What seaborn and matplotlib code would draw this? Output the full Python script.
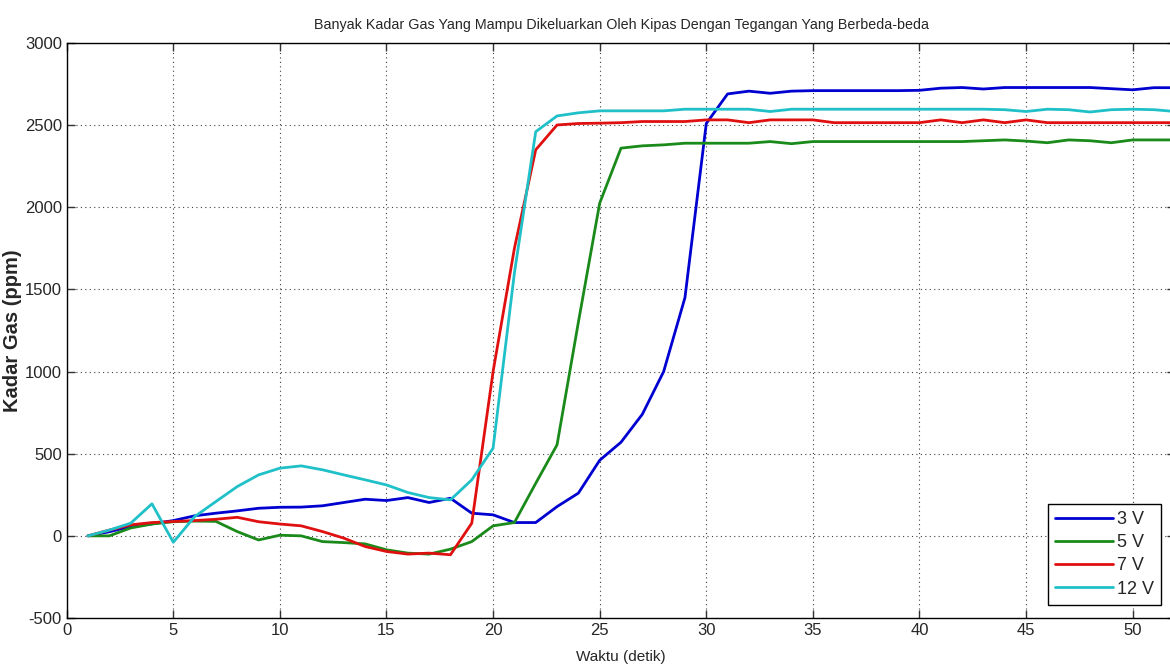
import matplotlib
matplotlib.use("Agg")
import matplotlib.pyplot as plt
import seaborn as sns
import pandas as pd
import numpy as np

# ---- data ----
waktu = list(range(1, 53))

v3 = [0, 25, 57, 73, 93, 122, 138, 152, 168, 174,
      175, 183, 203, 223, 215, 233, 203, 229, 138, 128,
      81, 81, 178, 260, 460, 570, 740, 1000, 1450, 2510,
      2690, 2707, 2694, 2707, 2710, 2710, 2710, 2710, 2710, 2712,
      2725, 2729, 2720, 2729, 2729, 2729, 2729, 2729, 2722, 2715,
      2728, 2728]

v5 = [0, 0, 48, 72, 86, 90, 88, 26, -25, 4,
      0, -35, -41, -49, -85, -105, -111, -81, -35, 61,
      81, 320, 554, 1300, 2025, 2360, 2374, 2380, 2390, 2390,
      2390, 2390, 2400, 2387, 2400, 2400, 2400, 2400, 2400, 2400,
      2400, 2400, 2405, 2410, 2403, 2393, 2410, 2405, 2393, 2410,
      2410, 2410]

v7 = [0, 35, 67, 81, 87, 93, 101, 113, 86, 72,
      61, 26, -14, -65, -95, -111, -105, -115, 77, 1000,
      1750, 2350, 2501, 2510, 2512, 2515, 2522, 2522, 2522, 2532,
      2532, 2515, 2532, 2532, 2532, 2515, 2515, 2515, 2515, 2515,
      2532, 2515, 2532, 2515, 2532, 2515, 2515, 2515, 2515, 2515,
      2515, 2515]

v12 = [0, 35, 77, 195, -39, 117, 209, 300, 371, 412,
       426, 402, 371, 341, 310, 264, 233, 219, 341, 534,
       1600, 2460, 2556, 2575, 2587, 2587, 2587, 2587, 2597, 2597,
       2597, 2597, 2583, 2597, 2597, 2597, 2597, 2597, 2597, 2597,
       2597, 2597, 2597, 2594, 2583, 2597, 2594, 2580, 2594, 2597,
       2594, 2583]

labels = ["3 V", "5 V", "7 V", "12 V"]
colors = ["#0000d0", "#1a8a1a", "#e01010", "#20c0c8"]

df = pd.concat([
    pd.DataFrame({"Waktu": waktu, "Kadar": vals, "Tegangan": lab})
    for vals, lab in zip([v3, v5, v7, v12], labels)
], ignore_index=True)

sns.set_style("ticks")
plt.rcParams['font.family'] = ['Liberation Sans', 'DejaVu Sans']
plt.rcParams['axes.unicode_minus'] = False

fig = plt.figure(figsize=(11.70, 6.68), dpi=100)
ax = fig.add_axes([66.7 / 1170, 50 / 668, 1108.6 / 1170, 575 / 668])

sns.lineplot(data=df, x="Waktu", y="Kadar", hue="Tegangan",
             palette=dict(zip(labels, colors)), hue_order=labels,
             linewidth=2.0, ax=ax, legend=True)

ax.set_xlim(0, 52)
ax.set_ylim(-500, 3000)
ax.set_xticks(range(0, 51, 5))
ax.set_yticks(range(-500, 3001, 500))
ax.grid(True, color="#404040", linestyle=(0, (1, 3)), linewidth=0.8)
ax.tick_params(direction="in", top=True, right=True, length=6,
               labelsize=12, width=1, color="#333333")
for s in ax.spines.values():
    s.set_linewidth(1.0)
    s.set_color("black")

ax.set_xlabel("Waktu (detik)", fontsize=11, labelpad=9)
ax.set_ylabel("Kadar Gas (ppm)", fontsize=14.5, fontweight="bold", labelpad=2)
ax.set_title("Banyak Kadar Gas Yang Mampu Dikeluarkan Oleh Kipas Dengan Tegangan Yang Berbeda-beda",
             fontsize=10.3, pad=10)

leg = ax.legend(loc="lower right", bbox_to_anchor=(0.987, 0.0226),
                borderaxespad=0, fancybox=False, framealpha=1,
                edgecolor="black", fontsize=13, handlelength=3.2,
                handletextpad=0.2, labelspacing=0.35, borderpad=0.4)
leg.get_frame().set_linewidth(1.0)

fig.savefig("out.png", dpi=100)
